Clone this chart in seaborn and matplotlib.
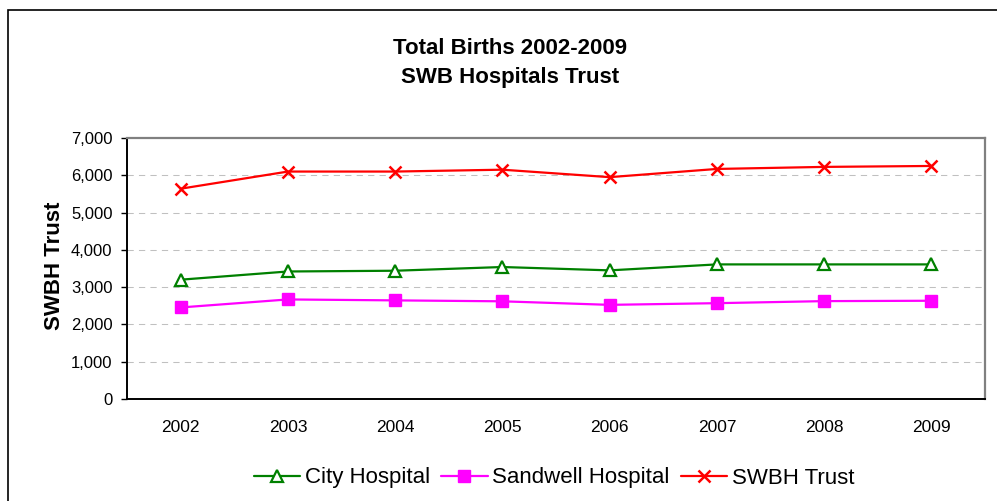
import matplotlib
matplotlib.use("Agg")
import matplotlib.pyplot as plt
import seaborn as sns
from matplotlib.patches import Rectangle
from matplotlib.ticker import FuncFormatter, FixedLocator

sns.set_style("white")
plt.rcParams['font.family'] = ['Liberation Sans', 'DejaVu Sans']
plt.rcParams['text.color'] = 'black'
plt.rcParams['xtick.color'] = 'black'
plt.rcParams['ytick.color'] = 'black'
plt.rcParams['axes.labelcolor'] = 'black'

# data
years = ["2002", "2003", "2004", "2005", "2006", "2007", "2008", "2009"]
city = [3200, 3420, 3440, 3540, 3450, 3610, 3610, 3610]
sandwell = [2455, 2670, 2645, 2620, 2525, 2570, 2625, 2635]
swbh = [5640, 6100, 6100, 6150, 5950, 6170, 6225, 6250]

fig = plt.figure(figsize=(9.97, 5.01), dpi=100)
ax = fig.add_axes([127 / 997, 102 / 501, 858 / 997, 261 / 501])

# City Hospital - open green triangles
sns.lineplot(x=years, y=city, ax=ax, color="#008000", linewidth=1.6,
             marker="^", markersize=9, mfc="white", mec="#008000", mew=1.6,
             label="City Hospital")
# Sandwell Hospital - magenta squares
sns.lineplot(x=years, y=sandwell, ax=ax, color="#FF00FF", linewidth=1.6,
             marker="s", markersize=9, mfc="#FF00FF", mec="#FF00FF", mew=1,
             label="Sandwell Hospital")
# SWBH Trust - red crosses
sns.lineplot(x=years, y=swbh, ax=ax, color="#FF0000", linewidth=1.6,
             marker="x", markersize=9, mec="#FF0000", mew=1.8,
             label="SWBH Trust")

ax.set_xlim(-0.5, len(years) - 0.5)
ax.set_ylim(0, 7000)
ax.set_yticks(range(0, 7001, 1000))
ax.yaxis.set_major_formatter(FuncFormatter(lambda v, p: f"{int(v):,}"))
ax.set_xticks(range(len(years)))
ax.set_xticklabels(years)
ax.xaxis.set_minor_locator(FixedLocator([i - 0.5 for i in range(len(years) + 1)]))

ax.tick_params(axis="x", which="major", length=0, pad=15, labelsize=12.5, labelcolor="black")
ax.tick_params(axis="x", which="minor", length=4, width=1, color="black", direction="out")
ax.tick_params(axis="y", length=4.5, width=1, color="black", direction="out",
               pad=6, labelsize=12, left=True, labelcolor="black")

# dashed gridlines
for v in range(1000, 7000, 1000):
    ax.axhline(v, color="#C0C0C0", linewidth=0.75, linestyle=(0, (6, 5)), zorder=0)

for side in ["left", "bottom"]:
    ax.spines[side].set_color("#000000")
    ax.spines[side].set_linewidth(1.4)
for side in ["top", "right"]:
    ax.spines[side].set_color("#808080")
    ax.spines[side].set_linewidth(1.6)

ax.set_xlabel("")
ax.set_ylabel("")
ax.get_legend().remove()

fig.text(54 / 997, 1 - 266 / 501, "SWBH Trust", rotation=90, ha="center", va="center",
         fontsize=16, fontweight="bold", color="black")
fig.text(510 / 997, 1 - 48 / 501, "Total Births 2002-2009", ha="center", va="center",
         fontsize=16, fontweight="bold", color="black")
fig.text(510 / 997, 1 - 78 / 501, "SWB Hospitals Trust", ha="center", va="center",
         fontsize=16, fontweight="bold", color="black")

handles, labels = ax.get_legend_handles_labels()
leg = fig.legend(handles, labels, loc="center", bbox_to_anchor=(554 / 997, 23 / 501), ncol=3,
                 frameon=False, fontsize=16, handlelength=2.1, handletextpad=0.2,
                 columnspacing=0.5)
for t in leg.get_texts():
    t.set_color("black")

# outer chart frame (cut off at right and bottom)
fig.add_artist(Rectangle((8 / 997, -0.1), 1.2, 1 - 10 / 501 + 0.1, transform=fig.transFigure,
                         fill=False, edgecolor="black", linewidth=1.2))

fig.savefig("out.png", dpi=100)
